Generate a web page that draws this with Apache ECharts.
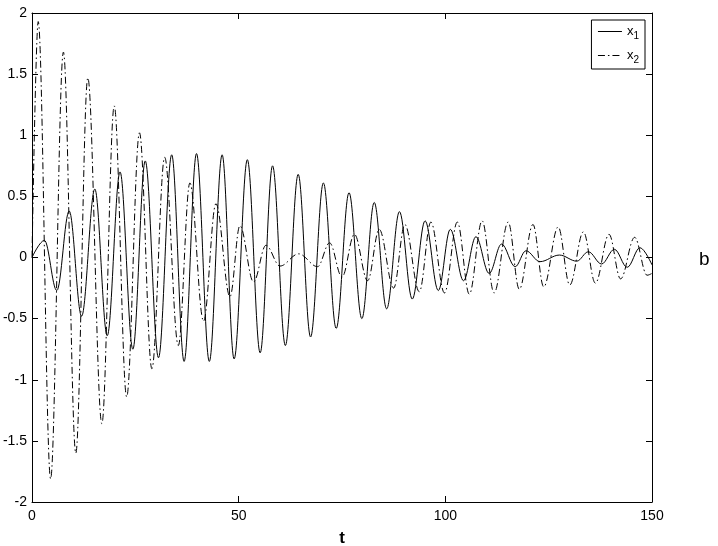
<!DOCTYPE html>
<html>
<head>
<meta charset="utf-8">
<script src="https://cdn.jsdelivr.net/npm/echarts@6/dist/echarts.min.js"></script>
<style>
  html, body { margin: 0; padding: 0; background: #fff; }
  #chart { width: 718px; height: 546px; }
</style>
</head>
<body>
<div id="chart"></div>
<script>
// extrema (t, value)
const x1Time = [0, 3.0, 6.0, 9.0, 12.0, 15.2, 18.2, 21.3, 24.4, 27.4, 30.6, 33.8, 36.8, 39.8, 42.9, 46.0,
  48.9, 52.1, 55.2, 58.2, 61.3, 64.4, 67.4, 70.5, 73.6, 76.7, 79.8, 82.8, 85.8, 88.9, 92.0, 95.1,
  98.3, 101.2, 104.4, 107.4, 110.6, 113.6, 116.9, 119.5, 122.9, 127.6, 131.8, 134.6, 137.8, 140.9,
  144.0, 147.1, 150]
const x1Value = [0, 0.14, -0.27, 0.38, -0.48, 0.56, -0.64, 0.70, -0.75, 0.79, -0.82, 0.84, -0.85, 0.85, -0.85, 0.84,
  -0.83, 0.80, -0.78, 0.75, -0.72, 0.68, -0.65, 0.61, -0.58, 0.53, -0.50, 0.45, -0.42, 0.375, -0.34, 0.30,
  -0.27, 0.23, -0.19, 0.17, -0.13, 0.11, -0.075, 0.055, -0.034, 0.02, -0.03, 0.047, -0.053, 0.067,
  -0.08, 0.08, -0.06]

const x2Time = [0, 1.5, 4.5, 7.6, 10.6, 13.5, 16.9, 19.9, 22.9, 26.0, 29.0, 32.1, 35.4, 38.2, 41.5, 44.5,
  47.9, 50.3, 53.6, 56.6, 60.0, 64.5, 69.1, 72.0, 75.0, 78.0, 81.2, 84.0, 87.5, 90.2, 93.7, 96.5,
  99.8, 102.9, 105.8, 108.9, 111.8, 115.2, 117.9, 121.2, 123.8, 127.3, 130.1, 133.4, 136.3, 139.6,
  142.4, 145.8, 148.8, 150]
const x2Value = [0, 1.93, -1.81, 1.68, -1.60, 1.47, -1.36, 1.24, -1.14, 1.02, -0.91, 0.82, -0.72, 0.61, -0.52, 0.44,
  -0.32, 0.26, -0.20, 0.10, -0.07, 0.03, -0.075, 0.12, -0.16, 0.19, -0.19, 0.23, -0.25, 0.27, -0.28, 0.29,
  -0.29, 0.29, -0.30, 0.30, -0.29, 0.29, -0.26, 0.27, -0.24, 0.25, -0.225, 0.21, -0.21, 0.19,
  -0.175, 0.165, -0.145, -0.13]

const seriesNames = ['x1', 'x2']

const font = 'Liberation Sans, Arial, Helvetica, sans-serif'

function pairs(ts, vs) {
  return ts.map((t, i) => [t, vs[i]])
}

const chart = echarts.init(document.getElementById('chart'))

const boxTick = { show: true, inside: true, length: 6, lineStyle: { color: '#000', width: 1 } }
const boxLine = { show: true, onZero: false, lineStyle: { color: '#000', width: 1 } }

chart.setOption({
  animation: false,
  backgroundColor: '#fff',
  title: {
    text: 'b',
    left: 694,
    top: 245,
    textStyle: { fontFamily: font, fontSize: 19, fontWeight: 'normal', color: '#000' }
  },
  legend: {
    data: seriesNames,
    orient: 'vertical',
    right: 73,
    top: 20,
    itemWidth: 24,
    itemHeight: 10,
    itemGap: 8,
    padding: [5, 6, 4, 6],
    backgroundColor: '#fff',
    borderColor: '#000',
    borderWidth: 1,
    borderRadius: 0,
    itemStyle: { opacity: 0 },
    lineStyle: { width: 1 },
    formatter: (name) => 'x{sub|' + name.slice(1) + '}',
    textStyle: {
      fontFamily: font,
      fontSize: 13,
      color: '#000',
      rich: {
        sub: { fontFamily: font, fontSize: 10, color: '#000', padding: [9, 0, 0, 0] }
      }
    }
  },
  grid: { left: 32, right: 66, top: 13, bottom: 44, show: false, outerBoundsMode: 'none', containLabel: false },
  xAxis: [
    {
      type: 'value',
      min: 0,
      max: 150,
      interval: 50,
      name: 't',
      nameLocation: 'middle',
      nameGap: 28,
      nameTextStyle: { fontFamily: font, fontSize: 17, fontWeight: 'bold', color: '#000' },
      axisLine: boxLine,
      axisTick: boxTick,
      splitLine: { show: false },
      axisLabel: { fontFamily: font, fontSize: 14, color: '#000', margin: 7 }
    },
    {
      type: 'value',
      position: 'top',
      min: 0,
      max: 150,
      interval: 50,
      axisLine: boxLine,
      axisTick: boxTick,
      splitLine: { show: false },
      axisLabel: { show: false }
    }
  ],
  yAxis: [
    {
      type: 'value',
      min: -2,
      max: 2,
      interval: 0.5,
      axisLine: boxLine,
      axisTick: boxTick,
      splitLine: { show: false },
      axisLabel: { fontFamily: font, fontSize: 14, color: '#000', margin: 5 }
    },
    {
      type: 'value',
      position: 'right',
      min: -2,
      max: 2,
      interval: 0.5,
      axisLine: boxLine,
      axisTick: boxTick,
      splitLine: { show: false },
      axisLabel: { show: false }
    }
  ],
  series: [
    {
      name: 'x1',
      type: 'line',
      data: pairs(x1Time, x1Value),
      smooth: 0.36,
      smoothMonotone: 'x',
      symbol: 'none',
      itemStyle: { color: '#000' },
      lineStyle: { color: '#000', width: 1 }
    },
    {
      name: 'x2',
      type: 'line',
      data: pairs(x2Time, x2Value),
      smooth: 0.36,
      smoothMonotone: 'x',
      symbol: 'none',
      itemStyle: { color: '#000' },
      lineStyle: { color: '#000', width: 1, type: [7, 3, 1.5, 3] }
    }
  ]
})
</script>
</body>
</html>
